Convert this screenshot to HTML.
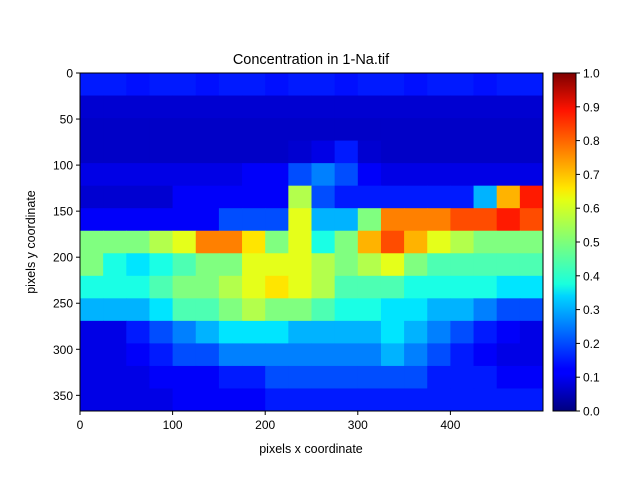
<!DOCTYPE html>
<html><head><meta charset="utf-8"><style>
body{margin:0;background:#fff;}
svg{font-family:"Liberation Sans","DejaVu Sans",sans-serif;}
</style></head><body>
<svg id="fig" width="640" height="480" xmlns="http://www.w3.org/2000/svg">
<defs>
<linearGradient id="jet" x1="0" y1="1" x2="0" y2="0">
<stop offset="0" stop-color="#00007f"/><stop offset="0.11" stop-color="#0000ff"/><stop offset="0.125" stop-color="#0000ff"/>
<stop offset="0.34" stop-color="#00d4ff"/><stop offset="0.375" stop-color="#19ffde"/><stop offset="0.5" stop-color="#7dff7a"/>
<stop offset="0.625" stop-color="#e4ff13"/><stop offset="0.66" stop-color="#ffe600"/><stop offset="0.89" stop-color="#ff1300"/>
<stop offset="1" stop-color="#7f0000"/></linearGradient>
</defs>
<text x="311" y="64" font-size="14.5" text-anchor="middle">Concentration in 1-Na.tif</text>
<g id="heat"></g>
<rect x="80" y="73" width="463" height="338" fill="none" stroke="#000" stroke-width="1"/>
<g id="xt"></g>
<g id="yt"></g>
<text x="311" y="453" font-size="12.5" text-anchor="middle">pixels x coordinate</text>
<text transform="translate(35,242) rotate(-90)" font-size="12.5" text-anchor="middle">pixels y coordinate</text>
<rect x="553" y="73" width="23" height="338" fill="url(#jet)" stroke="#000" stroke-width="1"/>
<g id="ct"></g>
</svg>
<script>
const xTicks=[0,100,200,300,400];
const yTicks=[0,50,100,150,200,250,300,350];
const cTicks=[0.0,0.1,0.2,0.3,0.4,0.5,0.6,0.7,0.8,0.9,1.0];
const grid=[
[0.15,0.15,0.14,0.15,0.15,0.14,0.15,0.15,0.14,0.15,0.15,0.14,0.15,0.15,0.14,0.15,0.15,0.14,0.15,0.15],
[0.08,0.08,0.08,0.08,0.08,0.08,0.08,0.08,0.08,0.08,0.08,0.08,0.08,0.08,0.08,0.08,0.08,0.08,0.08,0.08],
[0.07,0.07,0.07,0.07,0.07,0.07,0.07,0.07,0.07,0.07,0.07,0.07,0.07,0.07,0.07,0.07,0.07,0.07,0.07,0.07],
[0.07,0.07,0.07,0.07,0.07,0.07,0.07,0.07,0.07,0.08,0.1,0.15,0.08,0.07,0.07,0.07,0.07,0.07,0.07,0.07],
[0.1,0.1,0.1,0.1,0.1,0.1,0.1,0.12,0.12,0.2,0.25,0.2,0.12,0.1,0.1,0.1,0.1,0.1,0.1,0.1],
[0.08,0.08,0.08,0.08,0.12,0.12,0.12,0.12,0.12,0.55,0.2,0.15,0.15,0.15,0.15,0.15,0.15,0.3,0.7,0.85],
[0.12,0.12,0.12,0.12,0.12,0.12,0.2,0.2,0.2,0.6,0.3,0.3,0.5,0.75,0.75,0.75,0.8,0.8,0.85,0.8],
[0.5,0.5,0.5,0.55,0.6,0.75,0.75,0.65,0.5,0.6,0.4,0.5,0.7,0.8,0.7,0.6,0.55,0.5,0.5,0.5],
[0.5,0.4,0.35,0.4,0.45,0.5,0.5,0.6,0.6,0.6,0.55,0.5,0.55,0.6,0.5,0.45,0.45,0.45,0.45,0.45],
[0.4,0.4,0.4,0.45,0.5,0.5,0.55,0.6,0.65,0.6,0.55,0.45,0.45,0.45,0.4,0.4,0.4,0.4,0.35,0.35],
[0.3,0.3,0.3,0.35,0.45,0.45,0.5,0.55,0.5,0.5,0.45,0.4,0.4,0.35,0.35,0.3,0.3,0.25,0.2,0.2],
[0.1,0.1,0.15,0.2,0.25,0.3,0.35,0.35,0.35,0.3,0.3,0.3,0.3,0.35,0.3,0.25,0.2,0.15,0.12,0.1],
[0.1,0.1,0.12,0.15,0.2,0.2,0.25,0.25,0.25,0.25,0.25,0.25,0.25,0.3,0.25,0.2,0.15,0.12,0.1,0.1],
[0.1,0.1,0.1,0.12,0.12,0.12,0.15,0.15,0.2,0.2,0.2,0.2,0.2,0.2,0.2,0.15,0.15,0.15,0.12,0.12],
[0.1,0.1,0.1,0.1,0.12,0.12,0.12,0.12,0.15,0.15,0.15,0.15,0.15,0.15,0.15,0.15,0.15,0.15,0.15,0.15]
];
const XMAX=500,YMAX=367;
const X0=80,X1=543,Y0=73,Y1=411;
const sx=v=>X0+v/XMAX*(X1-X0);
const sy=v=>Y0+v/YMAX*(Y1-Y0);
const sc=v=>Y1-v*(Y1-Y0);
function jet(v){
  const c=x=>Math.max(0,Math.min(1,x));
  const r=c(1.5-Math.abs(4*v-3)),g=c(1.5-Math.abs(4*v-2)),b=c(1.5-Math.abs(4*v-1));
  return `rgb(${Math.round(r*255)},${Math.round(g*255)},${Math.round(b*255)})`;
}
const NS="http://www.w3.org/2000/svg";
function mk(tag,attrs,parent){const e=document.createElementNS(NS,tag);for(const k in attrs)e.setAttribute(k,attrs[k]);parent.appendChild(e);return e;}
const heat=document.getElementById('heat');
const rows=grid.length,cols=grid[0].length;
for(let r=0;r<rows;r++)for(let c=0;c<cols;c++){
  const xa=sx(c*XMAX/cols),xb=sx((c+1)*XMAX/cols),ya=sy(r*YMAX/rows),yb=sy((r+1)*YMAX/rows);
  const el=mk('rect',{x:xa,y:ya,width:xb-xa+0.5,height:yb-ya+0.5,fill:jet(grid[r][c])},heat);
  
  
}
const xt=document.getElementById('xt');
xTicks.forEach(t=>{
  const x=sx(t);
  const l=mk('line',{x1:x,x2:x,y1:Y1,y2:Y1+4,stroke:'#000'},xt);
  
  
  const tx=mk('text',{x:x,y:Y1+18,'font-size':'12','text-anchor':'middle'},xt);
  tx.textContent=t;
  
  
});
const yt=document.getElementById('yt');
yTicks.forEach(t=>{
  const y=sy(t);
  const l=mk('line',{x1:X0-4,x2:X0,y1:y,y2:y,stroke:'#000'},yt);
  
  
  const tx=mk('text',{x:X0-7,y:y+4.5,'font-size':'12','text-anchor':'end'},yt);
  tx.textContent=t;
  
  
});
const ct=document.getElementById('ct');
cTicks.forEach(t=>{
  const y=sc(t);
  const l=mk('line',{x1:576,x2:580,y1:y,y2:y,stroke:'#000'},ct);
  
  
  const tx=mk('text',{x:583,y:y+4.5,'font-size':'12'},ct);
  tx.textContent=t.toFixed(1);
  
  
});
</script>
</body></html>
